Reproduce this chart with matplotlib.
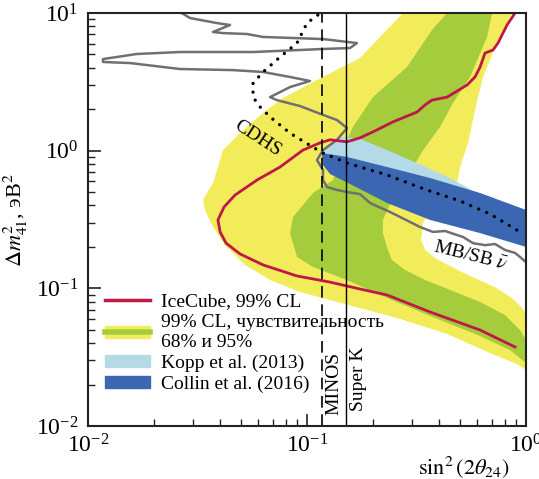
"""
Sterile neutrino exclusion plot: IceCube 99% CL contour vs sensitivity bands
and other experiments in the (sin^2(2theta_24), dm^2_41) plane.
"""
import matplotlib
matplotlib.use("Agg")
import matplotlib.pyplot as plt
from matplotlib.patches import Patch
from matplotlib.lines import Line2D

plt.rcParams['font.family'] = ['Liberation Serif', 'DejaVu Serif']
plt.rcParams['mathtext.fontset'] = 'stix'

# Sensitivity 95% band (outer, yellow)
sens95_s2 = [0.2745, 0.863, 0.737, 0.636, 0.585, 0.544, 0.500, 0.484, 0.405, 0.339,
             0.332, 0.346, 0.384, 0.450, 0.555, 0.722, 0.863, 0.959, 1.0, 1.0,
             0.910, 0.685, 0.436, 0.258, 0.127, 0.0929, 0.0678, 0.0521, 0.0422, 0.0368,
             0.0342, 0.0335, 0.0372, 0.0414, 0.0494, 0.0630, 0.0777, 0.1065, 0.1746, 0.2154]
sens95_dm = [10.0, 10.0, 6.05, 3.43, 1.97, 1.14, 0.761, 0.582, 0.438, 0.303,
             0.224, 0.190, 0.166, 0.145, 0.123, 0.102, 0.0851, 0.072, 0.0662, 0.0255,
             0.0282, 0.0339, 0.0466, 0.0609, 0.0823, 0.0941, 0.115, 0.148, 0.206, 0.288,
             0.371, 0.438, 0.582, 1.01, 1.34, 1.88, 2.41, 3.15, 4.71, 6.70]

# Sensitivity 68% band (inner, green)
sens68_s2 = [0.436, 0.700, 0.664, 0.555, 0.464, 0.405, 0.339, 0.305, 0.2745, 0.239,
             0.222, 0.222, 0.234, 0.244, 0.280, 0.346, 0.450, 0.617, 0.802, 0.939,
             1.0, 1.0, 0.845, 0.617, 0.365, 0.232, 0.152, 0.1065, 0.090, 0.0837,
             0.0863, 0.1065, 0.1315, 0.1415, 0.1523, 0.1622, 0.200, 0.286, 0.372]
sens68_dm = [10.0, 10.0, 6.70, 3.43, 2.22, 1.49, 1.01, 0.761, 0.582, 0.403,
             0.314, 0.252, 0.190, 0.161, 0.136, 0.115, 0.0973, 0.0796, 0.064, 0.0498,
             0.0421, 0.0287, 0.0356, 0.0451, 0.063, 0.0851, 0.115, 0.143, 0.169, 0.252,
             0.330, 0.493, 0.612, 0.855, 1.20, 1.49, 2.45, 4.05, 7.52]

# Kopp et al. (2013)
kopp_s2 = [0.1183, 0.1274, 0.146, 0.1746, 0.2496, 0.431, 0.567, 0.365, 0.1523, 0.1183]
kopp_dm = [0.962, 1.10, 1.26, 1.22, 0.962, 0.655, 0.518, 0.582, 0.787, 0.855]

# Collin et al. (2016)
collin_s2 = [0.117, 0.1523, 0.232, 0.365, 0.617, 1.0, 1.0, 0.617, 0.365, 0.232, 0.151, 0.1274, 0.1183]
collin_dm = [0.962, 0.900, 0.761, 0.633, 0.493, 0.371, 0.200, 0.252, 0.314, 0.417, 0.592, 0.677, 0.787]

# IceCube 99% CL contour
icecube_s2 = [0.891, 0.819, 0.745, 0.707, 0.650, 0.617, 0.585, 0.538, 0.436, 0.372,
              0.346, 0.318, 0.247, 0.200, 0.1746, 0.1523, 0.1274, 0.1147, 0.0958, 0.0753,
              0.0591, 0.0469, 0.0418, 0.0392, 0.0401, 0.0427, 0.0494, 0.063, 0.090, 0.1274,
              0.1523, 0.1746, 0.232, 0.365, 0.617, 0.891]
icecube_dm = [10.0, 8.18, 6.05, 5.39, 5.12, 4.05, 3.43, 3.00, 2.45, 2.33,
              2.15, 1.91, 1.62, 1.37, 1.24, 1.16, 1.20, 1.14, 1.01, 0.761,
              0.612, 0.476, 0.390, 0.314, 0.257, 0.213, 0.178, 0.148, 0.123, 0.111,
              0.104, 0.0989, 0.0895, 0.0673, 0.0498, 0.0375]

# MiniBooNE/SciBooNE antineutrino limit
mbsb_s2 = [0.0268, 0.0292, 0.0387, 0.0445, 0.0372, 0.0414, 0.0532, 0.0630, 0.1183, 0.1691,
           0.1572, 0.1183, 0.0567, 0.0263, 0.0167, 0.0117, 0.0117, 0.0156, 0.0263, 0.0459,
           0.0630, 0.0837, 0.1032, 0.0837, 0.0678, 0.0729, 0.0929, 0.1183, 0.1371, 0.1523,
           0.1371, 0.1183, 0.1111, 0.1183, 0.1183, 0.1234, 0.1371, 0.1523, 0.1746, 0.194,
           0.239, 0.266, 0.328, 0.376, 0.427, 0.516, 0.573, 0.650, 0.722, 0.802,
           0.891, 0.939, 1.0]
mbsb_dm = [10.0, 9.2, 8.46, 8.18, 7.28, 7.15, 7.04, 6.70, 6.47, 6.05,
           5.57, 5.48, 5.21, 5.21, 5.04, 4.63, 4.41, 4.33, 3.92, 3.85,
           3.73, 3.43, 3.21, 2.90, 2.45, 2.33, 2.11, 1.82, 1.67, 1.46,
           1.20, 1.01, 0.855, 0.724, 0.612, 0.545, 0.518, 0.501, 0.484, 0.417,
           0.359, 0.330, 0.279, 0.257, 0.261, 0.236, 0.213, 0.206, 0.210, 0.190,
           0.181, 0.169, 0.155]

# CDHS limit
cdhs_s2 = [0.112, 0.100, 0.090, 0.0753, 0.0630, 0.0567, 0.0567, 0.0610, 0.0678, 0.0837,
           0.1065, 0.1183, 0.1523, 0.232, 0.353, 0.500, 0.685, 0.959]
cdhs_dm = [9.67, 8.46, 6.05, 4.79, 3.73, 3.10, 2.45, 2.08, 1.76, 1.34,
           1.06, 0.962, 0.814, 0.666, 0.518, 0.431, 0.347, 0.252]

# Vertical limits
minos_s2 = 0.117
superk_s2 = 0.151

YELLOW = '#f3ec5a'
GREEN = '#a4cc3c'
LIGHTBLUE = '#b3dae6'
BLUE = '#3b66b1'
RED = '#be1748'
GRAY = '#707070'


def main():
    fig = plt.figure(figsize=(5.39, 4.79), dpi=100)
    ax = fig.add_axes([0.1633, 0.1106, 0.8126, 0.8622])

    ax.fill(sens95_s2, sens95_dm, color=YELLOW, lw=0, zorder=1)
    ax.fill(sens68_s2, sens68_dm, color=GREEN, lw=0, zorder=2)
    ax.fill(kopp_s2, kopp_dm, color=LIGHTBLUE, lw=0, zorder=3)
    ax.fill(collin_s2, collin_dm, color=BLUE, lw=0, zorder=4)

    ax.plot(mbsb_s2, mbsb_dm, color=GRAY, lw=1.8, zorder=5)
    ax.plot(icecube_s2, icecube_dm, color=RED, lw=2.0, zorder=6)
    ax.plot(cdhs_s2, cdhs_dm, color='black', lw=2.4, ls=(0, (0.01, 2.6)),
            dash_capstyle='round', zorder=7)

    ax.axvline(minos_s2, color='black', lw=1.2, ls=(0, (7, 4)), zorder=8)
    ax.axvline(superk_s2, color='black', lw=1.0, zorder=8)

    # annotations
    ax.text(0.0597, 1.22, 'CDHS', rotation=-33, fontsize=14,
            ha='center', va='center', rotation_mode='anchor', zorder=9)
    ax.text(0.555, 0.170, r'MB/SB $\bar{\nu}$', rotation=-14, fontsize=14,
            ha='center', va='center', rotation_mode='anchor', zorder=9)
    ax.text(0.1328, 0.0205, 'MINOS', rotation=90, fontsize=14,
            ha='center', va='center', zorder=9)
    ax.text(0.1719, 0.0220, 'Super K', rotation=90, fontsize=14,
            ha='center', va='center', zorder=9)

    ax.set_xscale('log')
    ax.set_yscale('log')
    ax.set_xlim(0.01, 1.0)
    ax.set_ylim(0.01, 10.0)

    ax.tick_params(which='both', direction='in', top=False, right=False,
                   labelsize=17, color='#222222')
    ax.tick_params(which='major', length=9, width=1.2)
    ax.tick_params(which='minor', length=5, width=1.0)
    ax.tick_params(axis='x', pad=6)
    ax.tick_params(axis='y', pad=7)
    for sp in ax.spines.values():
        sp.set_linewidth(1.5)
        sp.set_color('#222222')
        sp.set_zorder(10)

    ax.set_xlabel(r'$\sin^2(2\theta_{24})$', fontsize=16)
    ax.xaxis.set_label_coords(0.858, -0.068)
    ax.set_ylabel(r'$\Delta m^2_{41}$, эВ$^2$', fontsize=16)

    handles = [
        Line2D([], [], color=RED, lw=2.5),
        (Patch(color=YELLOW), Line2D([], [], color=GREEN, lw=4)),
        Patch(color=LIGHTBLUE),
        Patch(color=BLUE),
    ]
    labels = [
        'IceCube, 99% CL',
        '99% CL, чувствительность\n68% и 95%',
        'Kopp et al. (2013)',
        'Collin et al. (2016)',
    ]
    ax.legend(handles, labels, loc='upper left', bbox_to_anchor=(0.039, 0.322),
              frameon=False, fontsize=14, borderpad=0, borderaxespad=0,
              handlelength=2.3, handleheight=0.6, handletextpad=0.6,
              labelspacing=0.2)

    fig.savefig('out.png', dpi=100)
    plt.close(fig)


if __name__ == "__main__":
    main()
